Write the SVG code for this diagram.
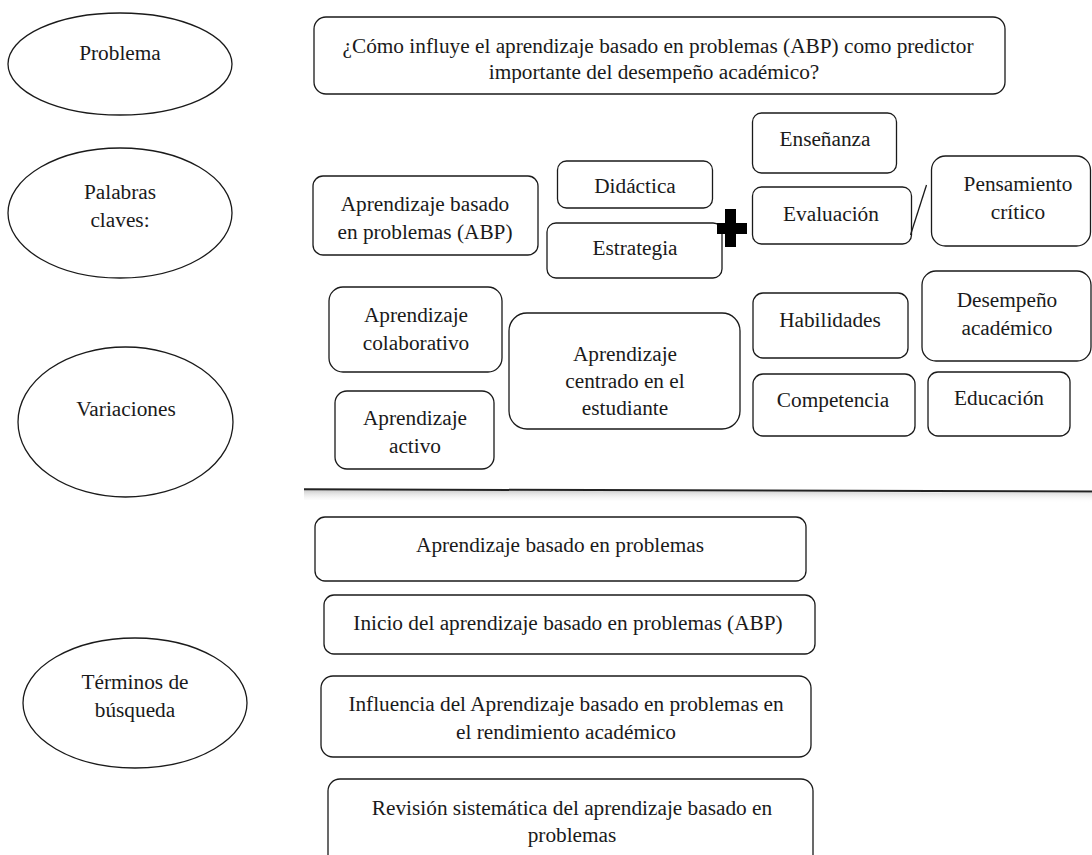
<svg xmlns="http://www.w3.org/2000/svg" width="1092" height="855" viewBox="0 0 1092 855">
<style>
  .n { fill: #ffffff; stroke: #1a1a1a; stroke-width: 1.3; }
  .t { font-family: "Liberation Serif", "Times New Roman", serif; font-size: 21.3px; fill: #1a1a1a; text-anchor: middle; }
</style>
<defs>
  <clipPath id="qclip"><rect x="314" y="17" width="691" height="66"/></clipPath>
  <linearGradient id="shadow" x1="0" y1="0" x2="0" y2="1">
    <stop offset="0" stop-color="#bdbdbd" stop-opacity="0.8"/>
    <stop offset="1" stop-color="#ffffff" stop-opacity="0"/>
  </linearGradient>
</defs>
<rect width="1092" height="855" fill="#ffffff"/>

<g id="problema"><ellipse class="n" cx="120" cy="64" rx="112" ry="51"/><text class="t" x="120" y="60">Problema</text></g>
<g id="palabras"><ellipse class="n" cx="120" cy="213" rx="112" ry="65"/><text class="t" x="120" y="199">Palabras</text><text class="t" x="120" y="227">claves:</text></g>
<g id="variaciones"><ellipse class="n" cx="125.5" cy="422" rx="107.5" ry="75"/><text class="t" x="126" y="416">Variaciones</text></g>
<g id="terminos"><ellipse class="n" cx="135" cy="703" rx="112" ry="65"/><text class="t" x="135" y="689">Términos de</text><text class="t" x="135" y="717">búsqueda</text></g>

<g id="pregunta"><rect class="n" x="314" y="17" width="691" height="77" rx="12"/>
  <g clip-path="url(#qclip)"><text class="t" x="658" y="53">¿Cómo influye el aprendizaje basado en problemas (ABP) como predictor</text><text class="t" x="654" y="79">importante del desempeño académico?</text></g></g>

<g id="abp"><rect class="n" x="313" y="176" width="225" height="79" rx="10"/><text class="t" x="425" y="211">Aprendizaje basado</text><text class="t" x="425" y="239">en problemas (ABP)</text></g>
<g id="didactica"><rect class="n" x="557.5" y="161" width="155" height="47" rx="9"/><text class="t" x="635" y="193">Didáctica</text></g>
<g id="estrategia"><rect class="n" x="547" y="223" width="175" height="55" rx="9"/><text class="t" x="635" y="255">Estrategia</text></g>
<g id="plus"><rect x="725" y="209" width="11" height="38" fill="#000"/><rect x="717" y="223" width="30" height="11" fill="#000"/></g>
<g id="ensenanza"><rect class="n" x="752.5" y="113" width="144" height="60" rx="9"/><text class="t" x="825" y="146">Enseñanza</text></g>
<g id="evaluacion"><rect class="n" x="752.5" y="187" width="159" height="57" rx="9"/><text class="t" x="831" y="221">Evaluación</text></g>
<g id="pensamiento"><rect class="n" x="931.5" y="156" width="159" height="90" rx="14"/><text class="t" x="1018" y="191">Pensamiento</text><text class="t" x="1018" y="219">crítico</text></g>

<g id="colaborativo"><rect class="n" x="329" y="287" width="173" height="85" rx="14"/><text class="t" x="416" y="322">Aprendizaje</text><text class="t" x="416" y="350">colaborativo</text></g>
<g id="activo"><rect class="n" x="335" y="391" width="159" height="78" rx="12"/><text class="t" x="415" y="425">Aprendizaje</text><text class="t" x="415" y="453">activo</text></g>
<g id="centrado"><rect class="n" x="509" y="313" width="231" height="116" rx="18"/><text class="t" x="625" y="361">Aprendizaje</text><text class="t" x="625" y="388">centrado en el</text><text class="t" x="625" y="415">estudiante</text></g>
<g id="habilidades"><rect class="n" x="753" y="293" width="155" height="65" rx="10"/><text class="t" x="830" y="327">Habilidades</text></g>
<g id="desempeno"><rect class="n" x="922" y="271" width="169" height="90" rx="14"/><text class="t" x="1007" y="307">Desempeño</text><text class="t" x="1007" y="335">académico</text></g>
<g id="competencia"><rect class="n" x="753" y="374" width="162" height="62" rx="10"/><text class="t" x="833" y="407">Competencia</text></g>
<g id="educacion"><rect class="n" x="928" y="372" width="142" height="64" rx="10"/><text class="t" x="999" y="405">Educación</text></g>

<g id="separador"><polygon points="304,490 1092,493 1092,503 304,500" fill="url(#shadow)"/><line x1="304" y1="489.3" x2="1092" y2="491.5" stroke="#222" stroke-width="2"/></g>

<g id="t1"><rect class="n" x="315" y="517" width="491" height="64" rx="10"/><text class="t" x="560" y="552">Aprendizaje basado en problemas</text></g>
<g id="t2"><rect class="n" x="324" y="595" width="491" height="59" rx="10"/><text class="t" x="568" y="630">Inicio del aprendizaje basado en problemas (ABP)</text></g>
<g id="t3"><rect class="n" x="321" y="676" width="490" height="81" rx="12"/><text class="t" x="566" y="711">Influencia del Aprendizaje basado en problemas en</text><text class="t" x="566" y="739">el rendimiento académico</text></g>
<g id="t4"><rect class="n" x="328" y="779" width="485" height="90" rx="12"/><text class="t" x="572" y="815">Revisión sistemática del aprendizaje basado en</text><text class="t" x="572" y="842">problemas</text></g>

<g id="connectors"><line x1="926.5" y1="185" x2="910.5" y2="235" stroke="#1a1a1a" stroke-width="1.3"/></g>
</svg>
